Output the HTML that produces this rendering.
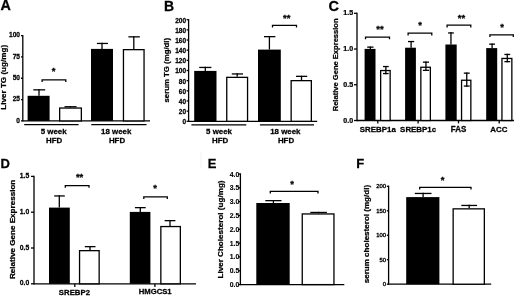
<!DOCTYPE html>
<html><head><meta charset="utf-8"><style>
html,body{margin:0;padding:0;background:#fff;}
body{width:520px;height:296px;overflow:hidden;}
svg{display:block;will-change:transform;filter:blur(0.3px);font-family:"Liberation Sans",sans-serif;}
</style></head><body>
<svg width="520" height="296" viewBox="0 0 520 296" fill="#000">
<rect width="520" height="296" fill="#fff"/>
<text transform="translate(0.40,10.20) scale(1,1.02)" font-size="14.4" text-anchor="start" font-weight="bold" stroke="#000" stroke-width="0.25" >A</text>
<line x1="22.80" y1="34.95" x2="22.80" y2="121.55" stroke="#000" stroke-width="1.3"/>
<line x1="21.00" y1="120.90" x2="22.80" y2="120.90" stroke="#000" stroke-width="1.3"/>
<text transform="translate(20.00,122.72) scale(1.0,1.02)" font-size="6.6" text-anchor="end" font-weight="bold" stroke="#000" stroke-width="0.250">0</text>
<line x1="21.00" y1="99.58" x2="22.80" y2="99.58" stroke="#000" stroke-width="1.3"/>
<text transform="translate(20.00,101.40) scale(1.0,1.02)" font-size="6.6" text-anchor="end" font-weight="bold" stroke="#000" stroke-width="0.250">25</text>
<line x1="21.00" y1="78.25" x2="22.80" y2="78.25" stroke="#000" stroke-width="1.3"/>
<text transform="translate(20.00,80.07) scale(1.0,1.02)" font-size="6.6" text-anchor="end" font-weight="bold" stroke="#000" stroke-width="0.250">50</text>
<line x1="21.00" y1="56.92" x2="22.80" y2="56.92" stroke="#000" stroke-width="1.3"/>
<text transform="translate(20.00,58.75) scale(1.0,1.02)" font-size="6.6" text-anchor="end" font-weight="bold" stroke="#000" stroke-width="0.250">75</text>
<line x1="21.00" y1="35.60" x2="22.80" y2="35.60" stroke="#000" stroke-width="1.3"/>
<text transform="translate(20.00,37.42) scale(1.0,1.02)" font-size="6.6" text-anchor="end" font-weight="bold" stroke="#000" stroke-width="0.250">100</text>
<line x1="22.80" y1="120.90" x2="150.00" y2="120.90" stroke="#000" stroke-width="1.3"/>
<line x1="24.20" y1="124.60" x2="78.60" y2="124.60" stroke="#000" stroke-width="1.3"/>
<line x1="91.30" y1="124.60" x2="146.50" y2="124.60" stroke="#000" stroke-width="1.3"/>
<rect x="27.60" y="95.80" width="22.00" height="25.10" fill="#000"/>
<line x1="39.00" y1="89.20" x2="39.00" y2="95.80" stroke="#000" stroke-width="1.3"/>
<line x1="33.30" y1="89.85" x2="45.20" y2="89.85" stroke="#000" stroke-width="1.3"/>
<rect x="59.65" y="108.05" width="21.70" height="12.85" fill="#fff" stroke="#000" stroke-width="1.3"/>
<line x1="70.50" y1="106.10" x2="70.50" y2="107.40" stroke="#000" stroke-width="1.3"/>
<line x1="64.50" y1="106.75" x2="76.60" y2="106.75" stroke="#000" stroke-width="1.3"/>
<rect x="91.00" y="48.90" width="22.00" height="72.00" fill="#000"/>
<line x1="102.00" y1="42.80" x2="102.00" y2="48.90" stroke="#000" stroke-width="1.3"/>
<line x1="96.90" y1="43.45" x2="107.90" y2="43.45" stroke="#000" stroke-width="1.3"/>
<rect x="123.45" y="49.65" width="20.60" height="71.25" fill="#fff" stroke="#000" stroke-width="1.3"/>
<line x1="133.80" y1="36.20" x2="133.80" y2="49.00" stroke="#000" stroke-width="1.3"/>
<line x1="128.40" y1="36.85" x2="139.80" y2="36.85" stroke="#000" stroke-width="1.3"/>
<path d="M42.10,82.00 L42.10,79.80 L65.80,79.80 L65.80,82.00" fill="none" stroke="#000" stroke-width="1.3"/>
<text transform="translate(53.50,74.07) scale(1,1.02)" font-size="9.5" text-anchor="middle" font-weight="bold" stroke="#000" stroke-width="0.25" >*</text>
<text transform="translate(53.60,134.10) scale(1,1.02)" font-size="7.9" text-anchor="middle" font-weight="bold" stroke="#000" stroke-width="0.25" >5 week</text>
<text transform="translate(54.20,143.20) scale(1,1.02)" font-size="7.9" text-anchor="middle" font-weight="bold" stroke="#000" stroke-width="0.25" >HFD</text>
<text transform="translate(116.20,134.10) scale(1,1.02)" font-size="7.9" text-anchor="middle" font-weight="bold" stroke="#000" stroke-width="0.25" >18 week</text>
<text transform="translate(117.00,143.20) scale(1,1.02)" font-size="7.9" text-anchor="middle" font-weight="bold" stroke="#000" stroke-width="0.25" >HFD</text>
<text transform="translate(6.20,77.30) rotate(-90)" x="0" y="0" font-size="8.1" text-anchor="middle" font-weight="bold" stroke="#000" stroke-width="0.25">Liver TG (ug/mg)</text>
<text transform="translate(164.00,10.60) scale(1,1.02)" font-size="14.0" text-anchor="start" font-weight="bold" stroke="#000" stroke-width="0.25" >B</text>
<line x1="188.60" y1="19.05" x2="188.60" y2="121.95" stroke="#000" stroke-width="1.3"/>
<line x1="186.60" y1="121.30" x2="188.60" y2="121.30" stroke="#000" stroke-width="1.3"/>
<text transform="translate(186.00,124.24) scale(1.0,1.02)" font-size="6.5" text-anchor="end" font-weight="bold" stroke="#000" stroke-width="0.250">0</text>
<line x1="186.60" y1="111.14" x2="188.60" y2="111.14" stroke="#000" stroke-width="1.3"/>
<text transform="translate(186.00,114.08) scale(1.0,1.02)" font-size="6.5" text-anchor="end" font-weight="bold" stroke="#000" stroke-width="0.250">20</text>
<line x1="186.60" y1="100.98" x2="188.60" y2="100.98" stroke="#000" stroke-width="1.3"/>
<text transform="translate(186.00,103.92) scale(1.0,1.02)" font-size="6.5" text-anchor="end" font-weight="bold" stroke="#000" stroke-width="0.250">40</text>
<line x1="186.60" y1="90.82" x2="188.60" y2="90.82" stroke="#000" stroke-width="1.3"/>
<text transform="translate(186.00,93.76) scale(1.0,1.02)" font-size="6.5" text-anchor="end" font-weight="bold" stroke="#000" stroke-width="0.250">60</text>
<line x1="186.60" y1="80.66" x2="188.60" y2="80.66" stroke="#000" stroke-width="1.3"/>
<text transform="translate(186.00,83.60) scale(1.0,1.02)" font-size="6.5" text-anchor="end" font-weight="bold" stroke="#000" stroke-width="0.250">80</text>
<line x1="186.60" y1="70.50" x2="188.60" y2="70.50" stroke="#000" stroke-width="1.3"/>
<text transform="translate(186.00,73.44) scale(1.0,1.02)" font-size="6.5" text-anchor="end" font-weight="bold" stroke="#000" stroke-width="0.250">100</text>
<line x1="186.60" y1="60.34" x2="188.60" y2="60.34" stroke="#000" stroke-width="1.3"/>
<text transform="translate(186.00,63.28) scale(1.0,1.02)" font-size="6.5" text-anchor="end" font-weight="bold" stroke="#000" stroke-width="0.250">120</text>
<line x1="186.60" y1="50.18" x2="188.60" y2="50.18" stroke="#000" stroke-width="1.3"/>
<text transform="translate(186.00,53.12) scale(1.0,1.02)" font-size="6.5" text-anchor="end" font-weight="bold" stroke="#000" stroke-width="0.250">140</text>
<line x1="186.60" y1="40.02" x2="188.60" y2="40.02" stroke="#000" stroke-width="1.3"/>
<text transform="translate(186.00,42.96) scale(1.0,1.02)" font-size="6.5" text-anchor="end" font-weight="bold" stroke="#000" stroke-width="0.250">160</text>
<line x1="186.60" y1="29.86" x2="188.60" y2="29.86" stroke="#000" stroke-width="1.3"/>
<text transform="translate(186.00,32.80) scale(1.0,1.02)" font-size="6.5" text-anchor="end" font-weight="bold" stroke="#000" stroke-width="0.250">180</text>
<line x1="186.60" y1="19.70" x2="188.60" y2="19.70" stroke="#000" stroke-width="1.3"/>
<text transform="translate(186.00,22.64) scale(1.0,1.02)" font-size="6.5" text-anchor="end" font-weight="bold" stroke="#000" stroke-width="0.250">200</text>
<line x1="188.60" y1="121.30" x2="317.20" y2="121.30" stroke="#000" stroke-width="1.3"/>
<line x1="191.40" y1="124.80" x2="246.30" y2="124.80" stroke="#000" stroke-width="1.3"/>
<line x1="259.90" y1="124.80" x2="314.00" y2="124.80" stroke="#000" stroke-width="1.3"/>
<rect x="194.20" y="70.90" width="22.30" height="50.40" fill="#000"/>
<line x1="205.30" y1="66.80" x2="205.30" y2="70.90" stroke="#000" stroke-width="1.3"/>
<line x1="199.20" y1="67.45" x2="211.40" y2="67.45" stroke="#000" stroke-width="1.3"/>
<rect x="226.75" y="77.35" width="20.80" height="43.95" fill="#fff" stroke="#000" stroke-width="1.3"/>
<line x1="237.20" y1="73.30" x2="237.20" y2="76.70" stroke="#000" stroke-width="1.3"/>
<line x1="231.80" y1="73.95" x2="243.00" y2="73.95" stroke="#000" stroke-width="1.3"/>
<rect x="258.00" y="49.60" width="22.80" height="71.70" fill="#000"/>
<line x1="269.40" y1="36.00" x2="269.40" y2="49.60" stroke="#000" stroke-width="1.3"/>
<line x1="264.00" y1="36.65" x2="275.40" y2="36.65" stroke="#000" stroke-width="1.3"/>
<rect x="291.15" y="80.65" width="20.20" height="40.65" fill="#fff" stroke="#000" stroke-width="1.3"/>
<line x1="301.50" y1="75.70" x2="301.50" y2="80.00" stroke="#000" stroke-width="1.3"/>
<line x1="296.00" y1="76.35" x2="307.20" y2="76.35" stroke="#000" stroke-width="1.3"/>
<path d="M272.50,27.60 L272.50,25.40 L296.50,25.40 L296.50,27.60" fill="none" stroke="#000" stroke-width="1.3"/>
<text transform="translate(286.70,20.77) scale(1,1.02)" font-size="9.5" text-anchor="middle" font-weight="bold" stroke="#000" stroke-width="0.25" >**</text>
<text transform="translate(219.00,134.20) scale(1,1.02)" font-size="7.9" text-anchor="middle" font-weight="bold" stroke="#000" stroke-width="0.25" >5 week</text>
<text transform="translate(220.10,143.20) scale(1,1.02)" font-size="7.9" text-anchor="middle" font-weight="bold" stroke="#000" stroke-width="0.25" >HFD</text>
<text transform="translate(285.30,134.10) scale(1,1.02)" font-size="7.9" text-anchor="middle" font-weight="bold" stroke="#000" stroke-width="0.25" >18 week</text>
<text transform="translate(286.00,143.20) scale(1,1.02)" font-size="7.9" text-anchor="middle" font-weight="bold" stroke="#000" stroke-width="0.25" >HFD</text>
<text transform="translate(169.40,70.20) rotate(-90)" x="0" y="0" font-size="7.8" text-anchor="middle" font-weight="bold" stroke="#000" stroke-width="0.25">serum TG (mg/dl)</text>
<text transform="translate(328.40,10.70) scale(1,1.02)" font-size="14.5" text-anchor="start" font-weight="bold" stroke="#000" stroke-width="0.25" >C</text>
<line x1="357.00" y1="12.65" x2="357.00" y2="121.15" stroke="#000" stroke-width="1.3"/>
<line x1="354.00" y1="120.50" x2="357.00" y2="120.50" stroke="#000" stroke-width="1.3"/>
<text transform="translate(353.20,122.50) scale(1.06,1.02)" font-size="6.7" text-anchor="end" font-weight="bold" stroke="#000" stroke-width="0.236">0.0</text>
<line x1="354.00" y1="84.77" x2="357.00" y2="84.77" stroke="#000" stroke-width="1.3"/>
<text transform="translate(353.20,86.77) scale(1.06,1.02)" font-size="6.7" text-anchor="end" font-weight="bold" stroke="#000" stroke-width="0.236">0.5</text>
<line x1="354.00" y1="49.03" x2="357.00" y2="49.03" stroke="#000" stroke-width="1.3"/>
<text transform="translate(353.20,51.04) scale(1.06,1.02)" font-size="6.7" text-anchor="end" font-weight="bold" stroke="#000" stroke-width="0.236">1.0</text>
<line x1="354.00" y1="13.30" x2="357.00" y2="13.30" stroke="#000" stroke-width="1.3"/>
<text transform="translate(353.20,15.30) scale(1.06,1.02)" font-size="6.7" text-anchor="end" font-weight="bold" stroke="#000" stroke-width="0.236">1.5</text>
<line x1="357.00" y1="120.50" x2="514.00" y2="120.50" stroke="#000" stroke-width="1.3"/>
<line x1="377.80" y1="120.50" x2="377.80" y2="123.40" stroke="#000" stroke-width="1.3"/>
<line x1="418.10" y1="120.50" x2="418.10" y2="123.40" stroke="#000" stroke-width="1.3"/>
<line x1="458.50" y1="120.50" x2="458.50" y2="123.40" stroke="#000" stroke-width="1.3"/>
<line x1="499.20" y1="120.50" x2="499.20" y2="123.40" stroke="#000" stroke-width="1.3"/>
<rect x="364.60" y="48.90" width="10.90" height="71.60" fill="#000"/>
<line x1="370.35" y1="46.50" x2="370.35" y2="48.90" stroke="#000" stroke-width="1.3"/>
<line x1="367.20" y1="47.15" x2="373.50" y2="47.15" stroke="#000" stroke-width="1.3"/>
<rect x="380.65" y="70.55" width="9.50" height="49.95" fill="#fff" stroke="#000" stroke-width="1.3"/>
<line x1="385.85" y1="65.90" x2="385.85" y2="74.20" stroke="#000" stroke-width="1.3"/>
<line x1="383.00" y1="66.55" x2="388.70" y2="66.55" stroke="#000" stroke-width="1.3"/>
<line x1="383.00" y1="73.55" x2="388.70" y2="73.55" stroke="#000" stroke-width="1.3"/>
<rect x="405.10" y="47.70" width="10.80" height="72.80" fill="#000"/>
<line x1="411.10" y1="40.90" x2="411.10" y2="47.70" stroke="#000" stroke-width="1.3"/>
<line x1="408.00" y1="41.55" x2="414.20" y2="41.55" stroke="#000" stroke-width="1.3"/>
<rect x="420.85" y="67.25" width="9.50" height="53.25" fill="#fff" stroke="#000" stroke-width="1.3"/>
<line x1="425.95" y1="61.50" x2="425.95" y2="71.00" stroke="#000" stroke-width="1.3"/>
<line x1="422.90" y1="62.15" x2="429.00" y2="62.15" stroke="#000" stroke-width="1.3"/>
<line x1="422.90" y1="70.35" x2="429.00" y2="70.35" stroke="#000" stroke-width="1.3"/>
<rect x="445.40" y="44.50" width="11.30" height="76.00" fill="#000"/>
<line x1="450.95" y1="32.30" x2="450.95" y2="44.50" stroke="#000" stroke-width="1.3"/>
<line x1="448.10" y1="32.95" x2="453.80" y2="32.95" stroke="#000" stroke-width="1.3"/>
<rect x="461.55" y="80.25" width="9.30" height="40.25" fill="#fff" stroke="#000" stroke-width="1.3"/>
<line x1="466.75" y1="72.50" x2="466.75" y2="86.70" stroke="#000" stroke-width="1.3"/>
<line x1="463.80" y1="73.15" x2="469.70" y2="73.15" stroke="#000" stroke-width="1.3"/>
<line x1="463.80" y1="86.05" x2="469.70" y2="86.05" stroke="#000" stroke-width="1.3"/>
<rect x="486.20" y="48.10" width="11.00" height="72.40" fill="#000"/>
<line x1="492.10" y1="43.50" x2="492.10" y2="48.10" stroke="#000" stroke-width="1.3"/>
<line x1="489.20" y1="44.15" x2="495.00" y2="44.15" stroke="#000" stroke-width="1.3"/>
<rect x="501.95" y="58.45" width="9.90" height="62.05" fill="#fff" stroke="#000" stroke-width="1.3"/>
<line x1="507.30" y1="53.80" x2="507.30" y2="62.30" stroke="#000" stroke-width="1.3"/>
<line x1="504.40" y1="54.45" x2="510.20" y2="54.45" stroke="#000" stroke-width="1.3"/>
<line x1="504.40" y1="61.65" x2="510.20" y2="61.65" stroke="#000" stroke-width="1.3"/>
<path d="M365.50,39.30 L365.50,37.10 L389.50,37.10 L389.50,39.30" fill="none" stroke="#000" stroke-width="1.3"/>
<text transform="translate(380.00,32.17) scale(1,1.02)" font-size="9.5" text-anchor="middle" font-weight="bold" stroke="#000" stroke-width="0.25" >**</text>
<path d="M408.10,35.40 L408.10,33.20 L431.80,33.20 L431.80,35.40" fill="none" stroke="#000" stroke-width="1.3"/>
<text transform="translate(420.20,27.77) scale(1,1.02)" font-size="9.5" text-anchor="middle" font-weight="bold" stroke="#000" stroke-width="0.25" >*</text>
<path d="M447.10,27.40 L447.10,25.20 L470.80,25.20 L470.80,27.40" fill="none" stroke="#000" stroke-width="1.3"/>
<text transform="translate(461.50,21.37) scale(1,1.02)" font-size="9.5" text-anchor="middle" font-weight="bold" stroke="#000" stroke-width="0.25" >**</text>
<path d="M489.90,37.00 L489.90,34.80 L513.30,34.80 L513.30,37.00" fill="none" stroke="#000" stroke-width="1.3"/>
<text transform="translate(502.10,29.87) scale(1,1.02)" font-size="9.5" text-anchor="middle" font-weight="bold" stroke="#000" stroke-width="0.25" >*</text>
<text transform="translate(377.80,132.30) scale(1,1.02)" font-size="7.9" text-anchor="middle" font-weight="bold" stroke="#000" stroke-width="0.25" >SREBP1a</text>
<text transform="translate(418.10,132.30) scale(1,1.02)" font-size="7.9" text-anchor="middle" font-weight="bold" stroke="#000" stroke-width="0.25" >SREBP1c</text>
<text transform="translate(458.50,132.10) scale(1,1.02)" font-size="8.0" text-anchor="middle" font-weight="bold" stroke="#000" stroke-width="0.25" >FAS</text>
<text transform="translate(498.80,132.10) scale(1,1.02)" font-size="7.9" text-anchor="middle" font-weight="bold" stroke="#000" stroke-width="0.25" >ACC</text>
<text transform="translate(337.50,64.85) rotate(-90)" x="0" y="0" font-size="7.57" text-anchor="middle" font-weight="bold" stroke="#000" stroke-width="0.25">Relative Gene Expression</text>
<text transform="translate(0.60,167.60) scale(1,1.02)" font-size="13.0" text-anchor="start" font-weight="bold" stroke="#000" stroke-width="0.25" >D</text>
<line x1="34.00" y1="175.75" x2="34.00" y2="284.45" stroke="#000" stroke-width="1.3"/>
<line x1="31.00" y1="283.80" x2="34.00" y2="283.80" stroke="#000" stroke-width="1.3"/>
<text transform="translate(29.20,285.49) scale(1.0,1.02)" font-size="6.8" text-anchor="end" font-weight="bold" stroke="#000" stroke-width="0.250">0.0</text>
<line x1="31.00" y1="248.00" x2="34.00" y2="248.00" stroke="#000" stroke-width="1.3"/>
<text transform="translate(29.20,249.69) scale(1.0,1.02)" font-size="6.8" text-anchor="end" font-weight="bold" stroke="#000" stroke-width="0.250">0.5</text>
<line x1="31.00" y1="212.20" x2="34.00" y2="212.20" stroke="#000" stroke-width="1.3"/>
<text transform="translate(29.20,213.89) scale(1.0,1.02)" font-size="6.8" text-anchor="end" font-weight="bold" stroke="#000" stroke-width="0.250">1.0</text>
<line x1="31.00" y1="176.40" x2="34.00" y2="176.40" stroke="#000" stroke-width="1.3"/>
<text transform="translate(29.20,178.09) scale(1.0,1.02)" font-size="6.8" text-anchor="end" font-weight="bold" stroke="#000" stroke-width="0.250">1.5</text>
<line x1="34.00" y1="283.80" x2="196.00" y2="283.80" stroke="#000" stroke-width="1.3"/>
<line x1="74.80" y1="283.80" x2="74.80" y2="287.00" stroke="#000" stroke-width="1.3"/>
<line x1="154.90" y1="283.80" x2="154.90" y2="287.00" stroke="#000" stroke-width="1.3"/>
<rect x="49.00" y="207.60" width="20.80" height="76.20" fill="#000"/>
<line x1="59.30" y1="195.30" x2="59.30" y2="207.60" stroke="#000" stroke-width="1.3"/>
<line x1="54.20" y1="195.95" x2="64.80" y2="195.95" stroke="#000" stroke-width="1.3"/>
<rect x="79.55" y="250.65" width="19.60" height="33.15" fill="#fff" stroke="#000" stroke-width="1.3"/>
<line x1="90.00" y1="246.00" x2="90.00" y2="250.00" stroke="#000" stroke-width="1.3"/>
<line x1="84.80" y1="246.65" x2="95.50" y2="246.65" stroke="#000" stroke-width="1.3"/>
<rect x="129.80" y="211.90" width="20.60" height="71.90" fill="#000"/>
<line x1="140.30" y1="207.00" x2="140.30" y2="211.90" stroke="#000" stroke-width="1.3"/>
<line x1="134.90" y1="207.65" x2="145.70" y2="207.65" stroke="#000" stroke-width="1.3"/>
<rect x="160.85" y="226.55" width="19.50" height="57.25" fill="#fff" stroke="#000" stroke-width="1.3"/>
<line x1="170.00" y1="220.00" x2="170.00" y2="225.90" stroke="#000" stroke-width="1.3"/>
<line x1="164.60" y1="220.65" x2="175.40" y2="220.65" stroke="#000" stroke-width="1.3"/>
<path d="M65.30,187.80 L65.30,185.60 L89.00,185.60 L89.00,187.80" fill="none" stroke="#000" stroke-width="1.3"/>
<text transform="translate(79.60,180.37) scale(1,1.02)" font-size="9.5" text-anchor="middle" font-weight="bold" stroke="#000" stroke-width="0.25" >**</text>
<path d="M143.80,199.00 L143.80,196.80 L167.30,196.80 L167.30,199.00" fill="none" stroke="#000" stroke-width="1.3"/>
<text transform="translate(155.10,191.47) scale(1,1.02)" font-size="9.5" text-anchor="middle" font-weight="bold" stroke="#000" stroke-width="0.25" >*</text>
<text transform="translate(74.40,294.60) scale(1,1.02)" font-size="7.8" text-anchor="middle" font-weight="bold" stroke="#000" stroke-width="0.25" >SREBP2</text>
<text transform="translate(155.20,293.90) scale(1,1.02)" font-size="7.7" text-anchor="middle" font-weight="bold" stroke="#000" stroke-width="0.25" >HMGCS1</text>
<text transform="translate(15.20,229.40) rotate(-90)" x="0" y="0" font-size="8.1" text-anchor="middle" font-weight="bold" stroke="#000" stroke-width="0.25">Relative Gene Expression</text>
<line x1="201.00" y1="152.00" x2="201.00" y2="168.00" stroke="#f3f3f3" stroke-width="1"/>
<text transform="translate(207.80,167.80) scale(1,1.02)" font-size="13.0" text-anchor="start" font-weight="bold" stroke="#000" stroke-width="0.25" >E</text>
<line x1="240.40" y1="173.35" x2="240.40" y2="285.25" stroke="#000" stroke-width="1.3"/>
<line x1="238.90" y1="284.60" x2="240.40" y2="284.60" stroke="#000" stroke-width="1.3"/>
<text transform="translate(239.20,287.13) scale(1.1,1.02)" font-size="6.2" text-anchor="end" font-weight="bold" stroke="#000" stroke-width="0.109">0.0</text>
<line x1="238.90" y1="270.78" x2="240.40" y2="270.78" stroke="#000" stroke-width="1.3"/>
<text transform="translate(239.20,273.31) scale(1.1,1.02)" font-size="6.2" text-anchor="end" font-weight="bold" stroke="#000" stroke-width="0.109">0.5</text>
<line x1="238.90" y1="256.95" x2="240.40" y2="256.95" stroke="#000" stroke-width="1.3"/>
<text transform="translate(239.20,259.48) scale(1.1,1.02)" font-size="6.2" text-anchor="end" font-weight="bold" stroke="#000" stroke-width="0.109">1.0</text>
<line x1="238.90" y1="243.12" x2="240.40" y2="243.12" stroke="#000" stroke-width="1.3"/>
<text transform="translate(239.20,245.66) scale(1.1,1.02)" font-size="6.2" text-anchor="end" font-weight="bold" stroke="#000" stroke-width="0.109">1.5</text>
<line x1="238.90" y1="229.30" x2="240.40" y2="229.30" stroke="#000" stroke-width="1.3"/>
<text transform="translate(239.20,231.83) scale(1.1,1.02)" font-size="6.2" text-anchor="end" font-weight="bold" stroke="#000" stroke-width="0.109">2.0</text>
<line x1="238.90" y1="215.48" x2="240.40" y2="215.48" stroke="#000" stroke-width="1.3"/>
<text transform="translate(239.20,218.01) scale(1.1,1.02)" font-size="6.2" text-anchor="end" font-weight="bold" stroke="#000" stroke-width="0.109">2.5</text>
<line x1="238.90" y1="201.65" x2="240.40" y2="201.65" stroke="#000" stroke-width="1.3"/>
<text transform="translate(239.20,204.18) scale(1.1,1.02)" font-size="6.2" text-anchor="end" font-weight="bold" stroke="#000" stroke-width="0.109">3.0</text>
<line x1="238.90" y1="187.82" x2="240.40" y2="187.82" stroke="#000" stroke-width="1.3"/>
<text transform="translate(239.20,190.36) scale(1.1,1.02)" font-size="6.2" text-anchor="end" font-weight="bold" stroke="#000" stroke-width="0.109">3.5</text>
<line x1="238.90" y1="174.00" x2="240.40" y2="174.00" stroke="#000" stroke-width="1.3"/>
<text transform="translate(239.20,176.53) scale(1.1,1.02)" font-size="6.2" text-anchor="end" font-weight="bold" stroke="#000" stroke-width="0.109">4.0</text>
<line x1="240.40" y1="284.60" x2="344.30" y2="284.60" stroke="#000" stroke-width="1.3"/>
<rect x="256.30" y="203.00" width="33.40" height="81.60" fill="#000"/>
<line x1="273.40" y1="200.00" x2="273.40" y2="203.00" stroke="#000" stroke-width="1.3"/>
<line x1="265.30" y1="200.65" x2="281.50" y2="200.65" stroke="#000" stroke-width="1.3"/>
<rect x="302.25" y="213.95" width="31.70" height="70.65" fill="#fff" stroke="#000" stroke-width="1.3"/>
<line x1="318.60" y1="211.80" x2="318.60" y2="213.30" stroke="#000" stroke-width="1.3"/>
<line x1="310.30" y1="212.45" x2="326.90" y2="212.45" stroke="#000" stroke-width="1.3"/>
<path d="M270.30,193.60 L270.30,191.40 L318.00,191.40 L318.00,193.60" fill="none" stroke="#000" stroke-width="1.3"/>
<text transform="translate(292.00,187.37) scale(1,1.02)" font-size="9.5" text-anchor="middle" font-weight="bold" stroke="#000" stroke-width="0.25" >*</text>
<text transform="translate(223.40,229.50) rotate(-90)" x="0" y="0" font-size="8.1" text-anchor="middle" font-weight="bold" stroke="#000" stroke-width="0.25">Liver Cholesterol (ug/mg)</text>
<text transform="translate(356.30,168.20) scale(1,1.02)" font-size="13.0" text-anchor="start" font-weight="bold" stroke="#000" stroke-width="0.25" >F</text>
<line x1="388.60" y1="185.65" x2="388.60" y2="284.85" stroke="#000" stroke-width="1.3"/>
<line x1="386.80" y1="284.20" x2="388.60" y2="284.20" stroke="#000" stroke-width="1.3"/>
<text transform="translate(386.00,286.33) scale(1.05,1.02)" font-size="5.6" text-anchor="end" font-weight="normal" stroke="#000" stroke-width="0.333">0</text>
<line x1="386.80" y1="259.73" x2="388.60" y2="259.73" stroke="#000" stroke-width="1.3"/>
<text transform="translate(386.00,261.85) scale(1.05,1.02)" font-size="5.6" text-anchor="end" font-weight="normal" stroke="#000" stroke-width="0.333">50</text>
<line x1="386.80" y1="235.25" x2="388.60" y2="235.25" stroke="#000" stroke-width="1.3"/>
<text transform="translate(386.00,237.38) scale(1.05,1.02)" font-size="5.6" text-anchor="end" font-weight="normal" stroke="#000" stroke-width="0.333">100</text>
<line x1="386.80" y1="210.78" x2="388.60" y2="210.78" stroke="#000" stroke-width="1.3"/>
<text transform="translate(386.00,212.90) scale(1.05,1.02)" font-size="5.6" text-anchor="end" font-weight="normal" stroke="#000" stroke-width="0.333">150</text>
<line x1="386.80" y1="186.30" x2="388.60" y2="186.30" stroke="#000" stroke-width="1.3"/>
<text transform="translate(386.00,188.43) scale(1.05,1.02)" font-size="5.6" text-anchor="end" font-weight="normal" stroke="#000" stroke-width="0.333">200</text>
<line x1="388.60" y1="284.20" x2="491.20" y2="284.20" stroke="#000" stroke-width="1.3"/>
<rect x="406.20" y="197.10" width="33.20" height="87.10" fill="#000"/>
<line x1="423.10" y1="192.80" x2="423.10" y2="197.10" stroke="#000" stroke-width="1.3"/>
<line x1="414.80" y1="193.45" x2="431.50" y2="193.45" stroke="#000" stroke-width="1.3"/>
<rect x="453.15" y="208.85" width="31.20" height="75.35" fill="#fff" stroke="#000" stroke-width="1.3"/>
<line x1="469.20" y1="204.80" x2="469.20" y2="208.20" stroke="#000" stroke-width="1.3"/>
<line x1="461.30" y1="205.45" x2="477.10" y2="205.45" stroke="#000" stroke-width="1.3"/>
<path d="M419.70,189.50 L419.70,187.30 L471.00,187.30 L471.00,189.50" fill="none" stroke="#000" stroke-width="1.3"/>
<text transform="translate(442.60,182.77) scale(1,1.02)" font-size="9.5" text-anchor="middle" font-weight="bold" stroke="#000" stroke-width="0.25" >*</text>
<text transform="translate(369.30,234.10) rotate(-90)" x="0" y="0" font-size="8.05" text-anchor="middle" font-weight="bold" stroke="#000" stroke-width="0.25">serum cholesterol (mg/dl)</text>
</svg>
</body></html>
